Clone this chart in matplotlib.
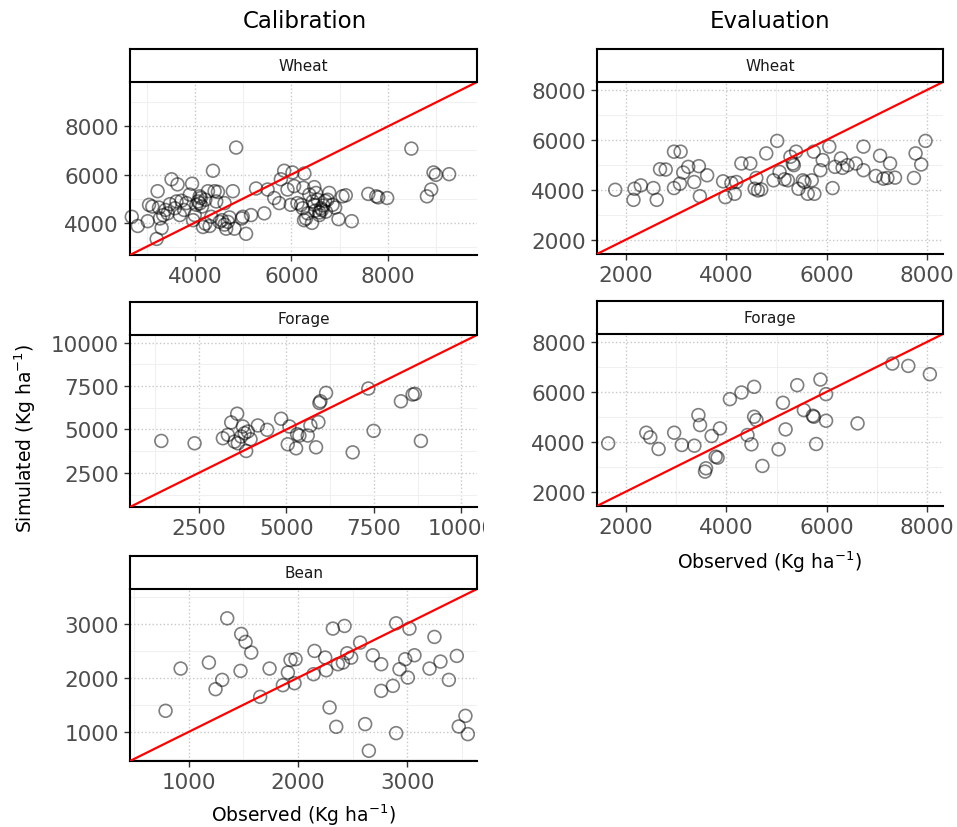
import numpy as np
import matplotlib.pyplot as plt
from matplotlib.ticker import AutoMinorLocator
from matplotlib.patches import Rectangle

plt.rcParams['font.family'] = 'DejaVu Sans'

# Calibration - Wheat
cw_obs = [2687, 2811, 3017, 3045, 3113, 3223, 3203, 3251, 3306, 3340, 3388, 3478, 3512, 3636,
          3581, 3684, 3718, 3821, 3890, 3938, 3993, 4062, 4117, 4165, 4213, 4268, 4371, 4405,
          4337, 4474, 4509, 4612, 4646, 4680, 4784, 4818, 4852, 4990, 5058, 5162, 5265, 5436,
          5505, 5643, 5746, 5780, 5849, 5918, 5986, 6021, 6055, 6124, 6261, 4612, 4213, 4100,
          6268, 6199, 6302, 6426, 6474, 6371, 6474, 6543, 6612, 6660, 6715, 6784, 6852, 6907,
          6976, 7058, 7127, 7251, 7595, 7760, 7801, 7986, 8488, 8811, 8900, 8948, 8997, 9271,
          6500, 6580, 6700,
          3271, 3430, 3615, 3773, 4027, 4144, 4096, 4302, 4557, 4715, 4969, 3959, 4440,
          6234, 6337, 6440, 6577, 6632, 6749, 6509, 6247]
cw_sim = [4241, 3858, 4057, 4738, 4667, 5305, 3319, 4624, 3773, 4312, 4525, 4766, 5801, 5589,
          4596, 4312, 4908, 4809, 5163, 5617, 4312, 4879, 5021, 3816, 3957, 5305, 6156, 5305,
          4241, 5277, 4028, 4809, 3745, 4028, 5305, 3745, 7121, 4241, 3532, 4312, 5418, 4383,
          5376, 5021, 4809, 5801, 6156, 5376, 4738, 6085, 5518, 4809, 4099, 3915, 4950, 4800,
          6043, 4738, 4170, 3986, 5475, 5163, 4738, 4950, 4596, 4709, 4454, 5234, 4738, 4624,
          4142, 5092, 5135, 4057, 5191, 5092, 5050, 5021, 7078, 5092, 5376, 6085, 5986, 6014,
          4500, 4420, 4900,
          4170, 4383, 4879, 4525, 4738, 4667, 5092, 3858, 4099, 4213, 4170, 4099, 4879,
          4596, 4383, 4879, 4312, 4525, 4950, 5234, 5447]

# Calibration - Forage
cf_obs = [1425, 2376, 3185, 3328, 3423, 3594, 3518, 3613, 3756, 3807, 3899, 3851, 3975, 4184,
          4451, 4850, 5040, 5088, 5278, 5307, 5373, 5611, 5687, 5916, 5849, 5944, 5973, 6135,
          6896, 7343, 7495, 8275, 8609, 8675, 8846, 3708]
cf_sim = [4341, 4205, 4496, 4690, 5407, 5911, 4302, 4205, 5174, 4787, 4884, 3760, 4438, 5233,
          4981, 5620, 4147, 5174, 3915, 4729, 4651, 4651, 5233, 5426, 3973, 6531, 6628, 7112,
          3682, 7364, 4922, 6628, 7016, 7054, 4341, 4593]

# Calibration - Bean
cb_obs = [786, 924, 1183, 1244, 1305, 1351, 1473, 1479, 1519, 1571, 1653, 1739, 1861, 1907,
          1931, 1977, 1968, 2142, 2151, 2249, 2258, 2319, 2426, 2289, 2350, 2365, 2411, 2450,
          2487, 2569, 2615, 2649, 2685, 2762, 2762, 2869, 2899, 2899, 2930, 2982, 3021, 3006,
          3067, 3205, 3250, 3305, 3382, 3455, 3473, 3534, 3556]
cb_sim = [1388, 2169, 2280, 1788, 1960, 3098, 2126, 2809, 2662, 2465, 1646, 2169, 1862, 2095,
          2329, 2342, 1898, 2065, 2495, 2372, 2138, 2908, 2957, 1449, 1092, 2249, 2280, 2452,
          2372, 2649, 1142, 649, 2415, 2249, 1757, 1849, 3006, 975, 2157, 2342, 2908, 2003,
          2415, 2169, 2754, 2298, 1960, 2403, 1098, 1295, 957]

# Evaluation - Wheat
ew_obs = [1788, 2152, 2172, 2298, 2549, 2615, 2681, 2794, 2959, 3091, 2959, 3078, 3144, 3243,
          3362, 3455, 3475, 3620, 3938, 3984, 4103, 4169, 4202, 4302, 4480, 4566, 4632, 4600,
          4698, 4798, 4943, 5016, 5063, 5161, 5228, 5280, 5327, 5347, 5393, 5440, 5526, 5559,
          5624, 5757, 5704, 5744, 5876, 5923, 6054, 6120, 6167, 6286, 6319, 6418, 6583, 6735,
          6735, 6980, 7066, 7132, 7212, 7265, 7364, 7741, 7774, 7886, 7972]
ew_sim = [4000, 3595, 4041, 4176, 4068, 3595, 4824, 4811, 5527, 5527, 4068, 4243, 4689, 4919,
          4311, 4946, 3743, 4581, 4338, 3703, 4270, 3838, 4311, 5054, 5054, 4041, 3973, 4473,
          4014, 5459, 4378, 5959, 4716, 4419, 4378, 5324, 5054, 4986, 5527, 4041, 4378, 4311,
          3838, 3838, 4378, 5527, 4784, 5189, 5730, 4068, 4919, 5257, 4878, 4986, 5054, 5730,
          4784, 4554, 5365, 4446, 4473, 5054, 4486, 4473, 5459, 5014, 5959]

# Evaluation - Forage
ef_obs = [1643, 2403, 2483, 2648, 2959, 3111, 3362, 3442, 3475, 3574, 3594, 3706, 3786, 3825,
          3872, 4070, 4302, 4553, 4421, 4500, 4553, 4600, 4718, 5042, 5128, 5181, 5413, 5545,
          5724, 5744, 5790, 5876, 5988, 5988, 6616, 7310, 7628, 8058]
ef_sim = [3933, 4360, 4173, 3707, 4360, 3867, 3840, 5067, 4667, 2800, 2933, 4227, 3400, 3360,
          4533, 5707, 5973, 6200, 4267, 3893, 5000, 4867, 3027, 3693, 5560, 4493, 6267, 5267,
          5040, 5000, 3907, 6493, 5907, 4840, 4733, 7133, 7040, 6707]

W, H = 957, 828
fig = plt.figure(figsize=(W / 100, H / 100), dpi=100)

grey = '#4d4d4d'
strip_h = 33 / H


def panel(px_left, px_right, px_top, px_bottom, obs, sim, lims, ticks, name):
    rect = [px_left / W, 1 - px_bottom / H, (px_right - px_left) / W, (px_bottom - px_top) / H]
    ax = fig.add_axes(rect)
    ax.scatter(obs, sim, s=85, facecolors='none', edgecolors='black',
               linewidths=1.2, alpha=0.5, zorder=3, clip_on=False)
    ax.axline((0, 0), slope=1, color='red', lw=1.6, zorder=4)
    ax.set_xlim(*lims)
    ax.set_ylim(*lims)
    ax.set_xticks(ticks)
    ax.set_yticks(ticks)
    ax.xaxis.set_minor_locator(AutoMinorLocator(2))
    ax.yaxis.set_minor_locator(AutoMinorLocator(2))
    ax.grid(which='major', ls=':', color='#c8c8c8', lw=1.0)
    ax.grid(which='minor', ls='-', color='#f0f0f0', lw=0.8)
    ax.set_axisbelow(True)
    ax.tick_params(which='major', length=4.5, width=1.0, color='#333333',
                   labelsize=15.5, labelcolor=grey)
    ax.tick_params(which='minor', length=0)
    for s in ('top', 'right'):
        ax.spines[s].set_visible(False)
    for s in ('left', 'bottom'):
        ax.spines[s].set_linewidth(1.5)
    # facet strip
    sx = fig.add_axes([rect[0], rect[1] + rect[3], rect[2], strip_h])
    sx.set_xticks([])
    sx.set_yticks([])
    for s in sx.spines.values():
        s.set_linewidth(1.5)
    sx.text(0.5, 0.5, name, ha='center', va='center', fontsize=11, color='#1a1a1a',
            transform=sx.transAxes)
    return ax


panel(130, 477, 83, 256, cw_obs, cw_sim, (2650, 9850), [4000, 6000, 8000], 'Wheat')
panel(130, 477, 336, 508, cf_obs, cf_sim, (530, 10450), [2500, 5000, 7500, 10000], 'Forage')
panel(130, 477, 590, 762, cb_obs, cb_sim, (460, 3640), [1000, 2000, 3000], 'Bean')
panel(597, 943, 83, 255, ew_obs, ew_sim, (1425, 8320), [2000, 4000, 6000, 8000], 'Wheat')
panel(597, 943, 335, 507, ef_obs, ef_sim, (1420, 8320), [2000, 4000, 6000, 8000], 'Forage')

# the "10000" tick label is cut off in the original
fig.add_artist(Rectangle((484 / W, 1 - 548 / H), 106 / W, 38 / H, transform=fig.transFigure,
                         facecolor='white', edgecolor='none', zorder=10))

fig.text(305 / W, 1 - 22 / H, 'Calibration', ha='center', va='center', fontsize=16.5)
fig.text(770 / W, 1 - 22 / H, 'Evaluation', ha='center', va='center', fontsize=16.5)
fig.text(25 / W, 1 - 438 / H, r'Simulated (Kg ha$^{-1}$)', ha='center', va='center',
         rotation=90, fontsize=13.5)
fig.text(769 / W, 1 - 562 / H, r'Observed (Kg ha$^{-1}$)', ha='center', va='center',
         fontsize=13.5)
fig.text(303 / W, 1 - 815 / H, r'Observed (Kg ha$^{-1}$)', ha='center', va='center',
         fontsize=13.5)

fig.savefig('out.png', dpi=100)
